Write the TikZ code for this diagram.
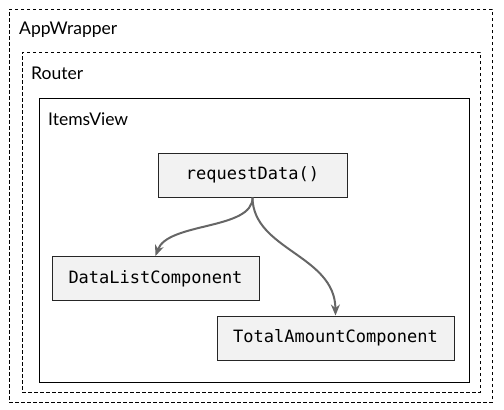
\documentclass[tikz,border=0pt]{standalone}
\usepackage{fontspec}
\setmainfont{Lato}
\setmonofont{DejaVu Sans Mono}
\usepackage{xcolor}
\usepackage{tikz}
\usetikzlibrary{arrows.meta, positioning}
\definecolor{boxfill}{HTML}{F2F2F2}
\definecolor{arrowgray}{HTML}{666666}
\tikzstyle{wrapper} = [rectangle, draw=black, line width=0.9pt, dash pattern=on 3.5pt off 2.5pt, inner sep=0pt]
\tikzstyle{view} = [rectangle, draw=black, line width=1pt, inner sep=0pt]
\tikzstyle{label} = [anchor=west, inner sep=0pt, font=\fontsize{17.5}{20}\selectfont]
\tikzstyle{component} = [rectangle, text centered, draw=black!85, line width=1pt, fill=boxfill, minimum height=44pt, inner sep=0pt, font=\ttfamily\fontsize{17}{20}\selectfont]
\tikzstyle{arrow} = [line width=2pt, arrowgray, -{Stealth[length=11pt, width=9pt]}]

\begin{document}
\begin{tikzpicture}[x=1pt, y=-1pt]
    \useasboundingbox (0,0) rectangle (504,410);
    % containers
    \node (app) [wrapper, minimum width=483pt, minimum height=393pt] at (250.5,205.5) {};
    \node (router) [wrapper, minimum width=458pt, minimum height=340pt] at (251,222) {};
    \node (items) [view, minimum width=430pt, minimum height=284pt] at (254,240) {};
    \node (applbl) [label] at (19,30) {AppWrapper};
    \node (routerlbl) [label] at (31,73) {Router};
    \node (itemslbl) [label] at (48,119) {ItemsView};

    % components
    \node (req) [component, minimum width=189pt] at (252.5,175) {requestData()};
    \node (list) [component, minimum width=207pt] at (155.5,278.5) {DataListComponent};
    \node (total) [component, minimum width=237pt] at (335.5,338) {TotalAmountComponent};

    \draw [arrow] (req.south) .. controls (253,230) and (168,222) .. (list.north);
    \draw [arrow] (req.south) .. controls (253,250) and (335,255) .. (total.north);
\end{tikzpicture}
\end{document}
